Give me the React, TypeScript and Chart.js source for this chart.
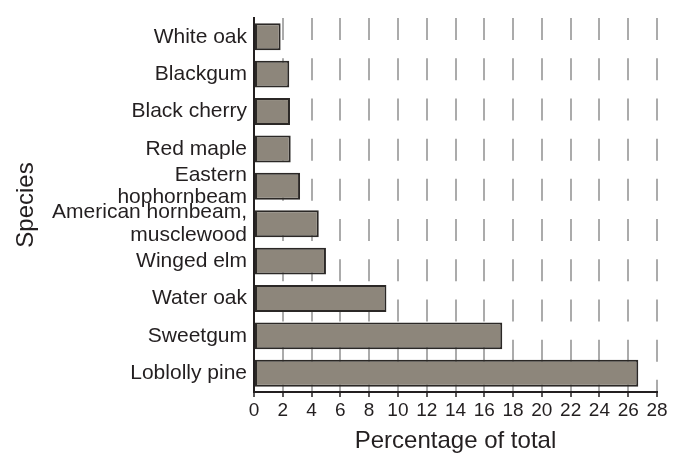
import React, { useEffect, useRef } from "react";
import { Chart, registerables } from "chart.js";

Chart.register(...registerables);

const species: (string | string[])[] = [
  "White oak",
  "Blackgum",
  "Black cherry",
  "Red maple",
  ["Eastern", "hophornbeam"],
  ["American hornbeam,", "musclewood"],
  "Winged elm",
  "Water oak",
  "Sweetgum",
  "Loblolly pine",
];
const percentages = [1.85, 2.45, 2.5, 2.55, 3.2, 4.5, 5.0, 9.2, 17.25, 26.7];
const xMin = 0;
const xMax = 28;
const xStep = 2;
const xTitle = "Percentage of total";
const yTitle = "Species";

const FONT = "'Liberation Sans', Arial, Helvetica, sans-serif";
const TEXT = "#231f20";

export default function App() {
  const ref = useRef<HTMLCanvasElement | null>(null);
  useEffect(() => {
    if (!ref.current) return;
    const chart = new Chart(ref.current, {
      type: "bar",
      data: {
        labels: species,
        datasets: [
          {
            data: percentages,
            backgroundColor: "#8d867b",
            borderColor: "#2b2826",
            borderWidth: 2,
            borderSkipped: false,
            barPercentage: 0.72,
            categoryPercentage: 1,
          },
        ],
      },
      options: {
        indexAxis: "y",
        animation: false,
        responsive: false,
        maintainAspectRatio: false,
        layout: { padding: { top: 8, right: 24, bottom: 0, left: 0 } },
        plugins: {
          legend: { display: false },
          tooltip: { enabled: false },
        },
        scales: {
          x: {
            type: "linear",
            position: "bottom",
            min: xMin,
            max: xMax,
            afterFit: (scale: any) => {
              scale.height = 64;
            },
            ticks: {
              stepSize: xStep,
              autoSkip: false,
              maxRotation: 0,
              padding: 2,
              color: TEXT,
              font: { family: FONT, size: 19 },
            },
            grid: {
              color: "#ababab",
              lineWidth: 2,
              tickColor: "#231f20",
              tickLength: 5,
              tickWidth: 1.5,
              drawTicks: true,
            },
            border: {
              display: true,
              color: "#231f20",
              width: 2,
              dash: [22, 18.2],
              dashOffset: 0,
            },
            title: {
              display: true,
              text: xTitle,
              color: TEXT,
              font: { family: FONT, size: 24, lineHeight: 1 },
              padding: { top: 0, bottom: 3 },
            },
          },
          y: {
            type: "category",
            position: "left",
            afterFit: (scale: any) => {
              scale.width = 254;
            },
            ticks: {
              padding: 7,
              color: TEXT,
              autoSkip: false,
              font: { family: FONT, size: 21, lineHeight: 1.05 },
            },
            grid: { display: false, drawTicks: false },
            border: { display: true, color: "#231f20", width: 2 },
            title: {
              display: true,
              text: yTitle,
              color: TEXT,
              font: { family: FONT, size: 24, lineHeight: 1 },
              padding: { top: 14, bottom: 0 },
            },
          },
        },
      },
    });
    return () => chart.destroy();
  }, []);
  return (
    <div style={{ position: "fixed", left: 0, top: 0, width: 681, height: 456, background: "#fff" }}>
      <canvas ref={ref} width={681} height={456} style={{ display: "block" }} />
    </div>
  );
}
